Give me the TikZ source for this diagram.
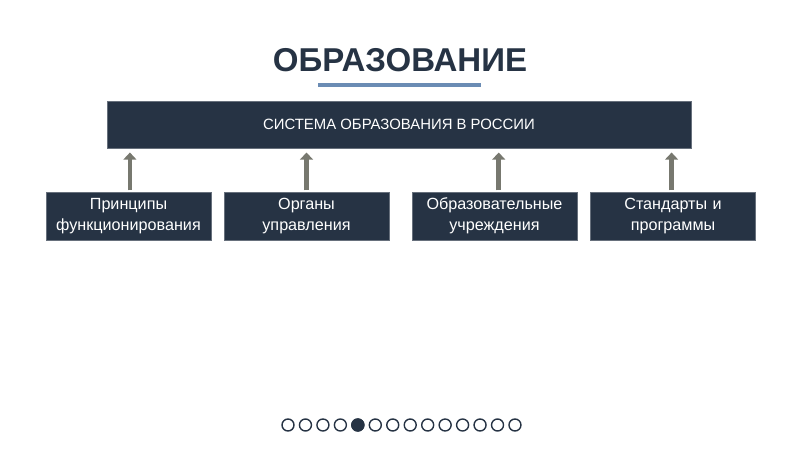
\documentclass[tikz,border=0pt]{standalone}
\usepackage{fontspec}
\setmainfont{Liberation Sans}
\usetikzlibrary{arrows.meta,positioning}
\definecolor{navy}{HTML}{263344}
\definecolor{arrowgray}{HTML}{77786F}
\definecolor{lineblue}{HTML}{6B8CB4}
\tikzset{
  topbox/.style={draw=navy!70!white, fill=navy, text=white, line width=0.4pt,
               minimum width=14.6cm, minimum height=1.175cm, align=center, font=\fontsize{10.6}{13}\selectfont},
  subbox/.style={draw=navy!70!white, fill=navy, text=white, line width=0.4pt,
               minimum width=4.125cm, minimum height=1.2cm, text width=3.9cm, align=center,
               font=\fontsize{11.5}{15}\selectfont},
  up/.style={-{Triangle[length=5pt, width=9pt]}, line width=3.4pt, draw=arrowgray,
               shorten >=3pt, shorten <=1pt},
  pagedot/.style={circle, draw=navy, line width=1pt, minimum size=0.3cm, inner sep=0pt},
}

\begin{document}
\begin{tikzpicture}
  \useasboundingbox (0,0) rectangle (20,11.25);
  \node[font=\bfseries\fontsize{23.5}{28}\selectfont, text=navy] (title) at (10,9.75) {ОБРАЗОВАНИЕ};
  \draw[lineblue, line width=2.2pt] (7.95,9.125) -- (12.025,9.125);

  \node[topbox] (sys) at (9.975,8.1375) {СИСТЕМА ОБРАЗОВАНИЯ В РОССИИ};

  \node[subbox] (princ) at (3.2125,5.85) {Принципы\\функционирования};
  \node[subbox] (organ) at (7.6625,5.85) {Органы\\управления};
  \node[subbox] (uchr) at (12.3625,5.85) {Образовательные\\учреждения};
  \node[subbox] (stand) at (16.825,5.85) {Стандарты и\\программы};

  \draw[up] ([xshift=1pt]princ.north) -- ([xshift=1pt]princ.north|-sys.south);
  \draw[up] (organ.north) -- (organ.north|-sys.south);
  \draw[up] ([xshift=3pt]uchr.north) -- ([xshift=3pt]uchr.north|-sys.south);
  \draw[up] ([xshift=-1pt]stand.north) -- ([xshift=-1pt]stand.north|-sys.south);

  % navigation dots
  \foreach \i in {0,...,13}
    \node[pagedot] (dot\i) at (7.2+\i*0.4365,0.625) {};
  \node[pagedot, fill=navy] at (dot4) {};
\end{tikzpicture}
\end{document}
